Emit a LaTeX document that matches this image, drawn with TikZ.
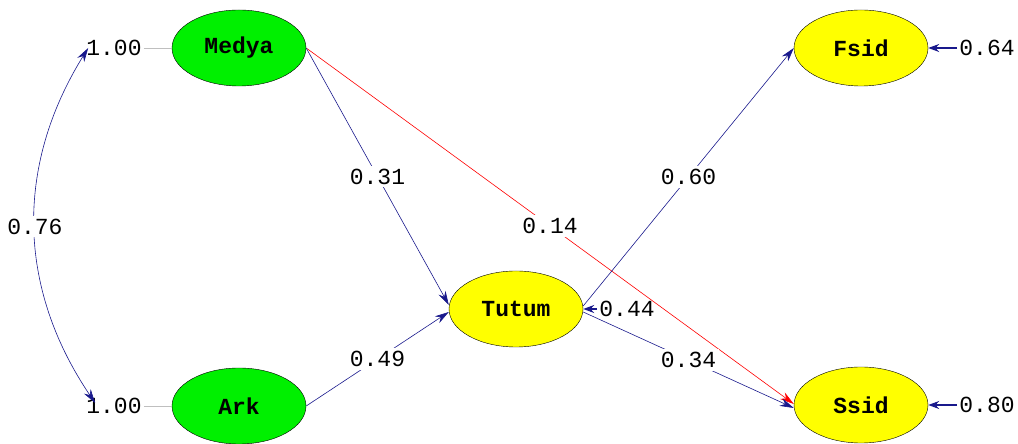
\documentclass[tikz,border=0pt]{standalone}
\usepackage{fontspec}
\setmonofont{Liberation Mono}
\usetikzlibrary{shapes, positioning, calc, arrows.meta}

\definecolor{pathblue}{RGB}{25,25,140}
\definecolor{exogreen}{RGB}{0,240,0}
\definecolor{endoyellow}{RGB}{255,255,0}

\begin{document}
\begin{tikzpicture}[x=1pt, y=1pt,
    font=\ttfamily\fontsize{23}{23}\selectfont]

  \tikzset{latent/.style={ellipse, draw, thin, minimum width=134pt, minimum height=76pt, inner sep=0pt, font=\ttfamily\bfseries\fontsize{23}{23}\selectfont}}
  \tikzset{exo/.style={latent, fill=exogreen}}
  \tikzset{endo/.style={latent, fill=endoyellow}}
  \tikzset{lbl/.style={inner sep=2pt, text=black}}
  \tikzset{coef/.style={lbl, fill=white, inner sep=3pt}}
  \tikzset{ptr/.style={semithick, ->, >={Stealth[length=14pt, width=8pt]}, pathblue}}
  \tikzset{redptr/.style={ptr, red}}
  \tikzset{errptr/.style={ptr, line width=1.1pt, >={Stealth[length=11pt, width=8pt]}}}
  \tikzset{corr/.style={ptr, <->}}
  \tikzset{varline/.style={semithick, black!25}}

  \useasboundingbox (0,0) rectangle (1018,444);

  % latent variables
  \node[exo] at (239,396) (medya) {Medya};
  \node[exo] at (239,38) (ark) {Ark};
  \node[endo] at (516,135) (tutum) {Tutum};
  \node[endo] at (861,396) (fsid) {Fsid};
  \node[endo] at (861,39) (ssid) {Ssid};

  % variances
  \node[lbl, left=28pt of medya] (vmedya) {1.00};
  \node[lbl, left=28pt of ark] (vark) {1.00};
  \draw[varline] (vmedya) -- (medya);
  \draw[varline] (vark) -- (ark);

  % error terms
  \node[lbl, right=14pt of tutum] (etutum) {0.44};
  \node[lbl, right=29pt of fsid] (efsid) {0.64};
  \node[lbl, right=29pt of ssid] (essid) {0.80};
  \draw[errptr] (etutum) -- (tutum);
  \draw[errptr] (efsid) -- (fsid);
  \draw[errptr] (essid) -- (ssid);

  % correlation
  \draw[corr] ($(vmedya.west)+(4,0)$) to[bend right=33] node[coef] {0.76} ($(vark.west)+(11,3)$);

  % paths
  \draw[redptr] (medya.east) -- node[coef] {0.14} ($(ssid.west)+(0,1)$);
  \draw[ptr] (medya.east) -- node[coef] {0.31} ($(tutum.west)+(0,4)$);
  \draw[ptr] (ark.east) -- node[coef] {0.49} ($(tutum.west)+(0,-3)$);
  \draw[ptr] ($(tutum.east)+(0,3)$) -- node[coef] {0.60} (fsid.west);
  \draw[ptr] ($(tutum.east)+(0,-3)$) -- node[coef] {0.34} ($(ssid.west)+(0,-3)$);
\end{tikzpicture}
\end{document}
